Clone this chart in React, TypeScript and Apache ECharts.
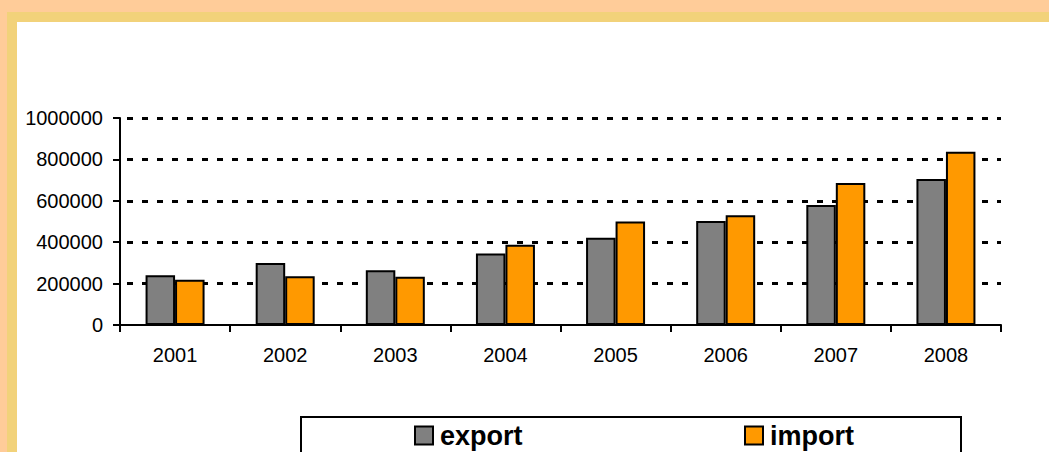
import React, { useEffect, useRef } from "react";
import * as echarts from "echarts";

const years = ["2001", "2002", "2003", "2004", "2005", "2006", "2007", "2008"];
const exportValues = [240000, 300000, 265000, 346000, 422000, 503000, 580000, 705000];
const importValues = [218000, 236000, 233000, 388000, 500000, 530000, 686000, 837000];
const yTicks = { min: 0, max: 1000000, interval: 200000 };

const FONT = "'Liberation Sans', Arial, sans-serif";

export default function App() {
  const ref = useRef<HTMLDivElement>(null);
  useEffect(() => {
    if (!ref.current) return;
    const chart = echarts.init(ref.current, undefined, { renderer: "svg" });
    const legendBase = {
      orient: "horizontal",
      top: 422,
      padding: 0,
      itemWidth: 18,
      itemHeight: 18,
      icon: "rect",
      itemStyle: { borderColor: "#000", borderWidth: 2 },
      textStyle: { fontFamily: FONT, fontWeight: "bold", fontSize: 27, color: "#000", padding: [0, 0, 0, 2] },
    };
    chart.setOption({
      animation: false,
      backgroundColor: "#FFCC99",
      graphic: [
        { type: "rect", z: -10, shape: { x: 7, y: 12, width: 1100, height: 500 }, style: { fill: "#F2D27A" } },
        { type: "rect", z: -9, shape: { x: 17, y: 22, width: 1100, height: 500 }, style: { fill: "#FFFFFF" } },
        {
          type: "rect",
          z: -8,
          shape: { x: 301, y: 417, width: 660, height: 60 },
          style: { fill: "#FFFFFF", stroke: "#000", lineWidth: 2 },
        },
      ],
      legend: [
        { ...legendBase, left: 414, data: ["export"] },
        { ...legendBase, left: 744, data: ["import"] },
      ],
      grid: { left: 120, right: 48, top: 118, bottom: 127, containLabel: false },
      xAxis: {
        type: "category",
        data: years,
        boundaryGap: true,
        axisLine: { lineStyle: { color: "#000", width: 2 } },
        axisTick: { show: true, length: 7, lineStyle: { color: "#000", width: 2 } },
        axisLabel: { fontFamily: FONT, fontSize: 20, color: "#000", margin: 20 },
      },
      yAxis: {
        type: "value",
        min: yTicks.min,
        max: yTicks.max,
        interval: yTicks.interval,
        axisLine: { show: true, lineStyle: { color: "#000", width: 2 } },
        axisTick: { show: true, length: 7, lineStyle: { color: "#000", width: 2 } },
        axisLabel: {
          fontFamily: FONT,
          fontSize: 20,
          color: "#000",
          margin: 17,
          formatter: (v: number) => String(v),
        },
        splitLine: {
          show: true,
          showMinLine: false,
          lineStyle: { color: "#000", width: 3, type: [6, 9], dashOffset: 8 },
        },
      },
      series: [
        {
          name: "export",
          type: "bar",
          data: exportValues,
          barWidth: 29.5,
          barGap: "0%",
          itemStyle: { color: "#808080", borderColor: "#000", borderWidth: 2 },
        },
        {
          name: "import",
          type: "bar",
          data: importValues,
          barWidth: 29.5,
          barGap: "0%",
          itemStyle: { color: "#FF9900", borderColor: "#000", borderWidth: 2 },
        },
      ],
    });
    return () => chart.dispose();
  }, []);
  return (
    <div
      ref={ref}
      style={{ position: "fixed", left: 0, top: 0, width: 1049, height: 452 }}
    />
  );
}
